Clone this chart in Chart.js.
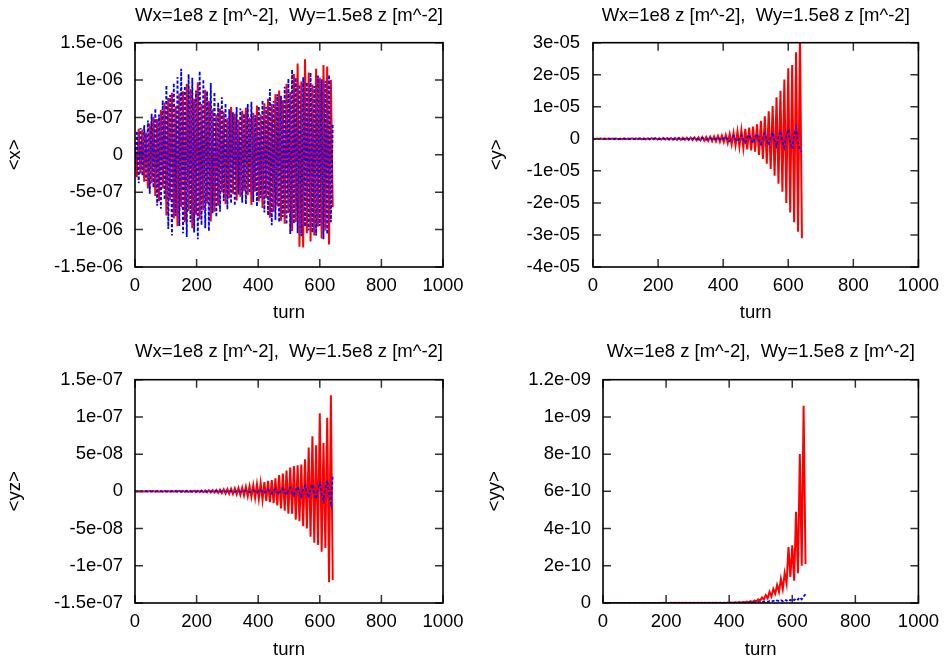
<!DOCTYPE html>
<html><head><meta charset="utf-8">
<script src="https://cdn.jsdelivr.net/npm/chart.js@4.4.1/dist/chart.umd.min.js"></script>
<style>
html,body{margin:0;padding:0;background:#fff;width:947px;height:665px;overflow:hidden;position:relative}
canvas{position:absolute}
</style></head><body>
<canvas id="c1" width="473" height="330" style="left:0;top:0"></canvas>
<canvas id="c2" width="474" height="330" style="left:473px;top:0"></canvas>
<canvas id="c3" width="473" height="335" style="left:0;top:330px"></canvas>
<canvas id="c4" width="474" height="335" style="left:473px;top:330px"></canvas>
<script>
// ---------- DATA ----------
const turns = [0,6,12,18,24,30,36,42,48,54,
60,66,72,78,84,90,96,102,108,114,
120,126,132,138,144,150,156,162,168,174,
180,186,192,198,204,210,216,222,228,234,
240,246,252,258,264,270,276,282,288,294,
300,306,312,318,324,330,336,342,348,354,
360,366,372,378,384,390,396,402,408,414,
420,426,432,438,444,450,456,462,468,474,
480,486,492,498,504,510,516,522,528,534,
540,546,552,558,564,570,576,582,588,594,
600,606,612,618,624,630,636,642];

// <x>, values in units of 1e-7
const X_UNIT = 1e-7;
const xRed = [1,-3,3.5,-2.5,3.4,-3.6,3,-4.5,4.2,-3.8,
5.1,-5.5,4.8,-6.2,6,-4.5,7,-8.1,7.6,-6,
8.3,-8.5,6.5,-9.5,8.2,-7,8.5,-9,9.5,-7.5,
8.8,-9.8,7.5,-8,9.7,-8.6,6.8,-7.4,8.7,-6.5,
7.2,-8.9,6.1,-7.6,5.4,-6.8,6.2,-5,5.8,-6.6,
4.9,-5.8,6.4,-5.2,5.5,-6.1,4.7,-5.6,5.9,-4.8,
6.3,-5.4,5,-6.7,5.6,-4.9,6.6,-6.2,5.4,-7.1,
6.9,-5.8,7.5,-8.4,6.8,-7.6,8.1,-6.9,8.6,-8.8,
7.3,-9.2,9.5,-7.8,8.4,-10.2,10.8,-9,12.2,-12.3,
9.8,-12.4,12.8,-10.5,11,-11.6,9.4,-10.8,11.5,-9.6,
10.3,-11.2,12,-10.1,11.8,-12,10,-7];
const xBlue = [-2,3.2,-3.8,3.6,-2.8,4,-3.5,4.6,-5.2,5.5,
-4.4,6.2,-6.8,5.4,-7.2,7.3,-6,9.3,-9.9,8,
-10.8,9.6,-8.2,10.4,-9.5,11.5,-10.5,9.2,-11,10.8,
-9,10.3,-10.4,8.6,-11.3,11.2,-9.4,10.1,-9.8,8.5,
-10.2,9.6,-7.8,8.4,-8.3,7,-7.6,7.7,-6.2,6.9,
-7.3,6.1,-6.5,5.7,-6.8,6.4,-5.3,6.2,-6.4,5.5,
-6.6,6.8,-5.1,7.1,-6.3,5.3,-6.9,6.5,-5.8,7.3,
-7.7,6.4,-8.1,8.8,-9.4,7.2,-8.7,8.1,-9,7.9,
-8.3,9.1,-9.3,10.2,-10.6,11.4,-9.2,10.3,-10.5,9.4,
-10.9,10.4,-9.6,9.7,-10.1,11,-10.4,9.2,-10.8,10.6,
-9.5,10.1,-11.3,9.9,-10.6,10.7,-9,4];

// <y>, values in units of 1e-5
const Y_UNIT = 1e-5;
const yRed = [.005,-.005,.006,-.006,.006,-.007,.007,-.007,.008,-.008,
.008,-.009,.009,-.009,.01,-.01,.01,-.011,.011,-.012,
.012,-.013,.013,-.014,.014,-.015,.016,-.016,.017,-.018,
.018,-.019,.019,-.02,.021,-.022,.023,-.024,.025,-.026,
.027,-.028,.029,-.03,.03,-.031,.032,-.033,.034,-.035,
.036,-.039,.041,-.044,.047,-.05,.053,-.056,.059,-.063,
.067,-.072,.077,-.082,.087,-.092,.097,-.104,.12,-.13,
.15,-.17,.19,-.21,.23,-.25,.27,-.29,.31,-.33,
.35,-.36,.38,-.4,.45,-.5,.56,-.63,.7,-.78,
.86,-.94,1.02,-1.15,1.3,-1.4,1.5,-1.65,1.85,-2.0,
2.2,-2.3,2.3,-2.6,2.7,-2.9,3.3,-3.1];
const yBlue = [.003,-.001,-.003,.001,.004,-.001,-.004,.001,.004,-.001,
-.005,.002,.005,-.002,-.005,.002,.006,-.002,-.006,.002,
.007,-.002,-.007,.002,.008,-.002,-.008,.003,.009,-.003,
-.009,.003,.01,-.003,-.01,.003,.011,-.003,-.011,.004,
.012,-.004,-.012,.004,.013,-.004,-.014,.004,.015,-.005,
-.02,.006,.022,-.007,-.024,.008,.027,-.009,-.03,.01,
.034,-.011,-.038,.012,.042,-.014,-.05,.018,.065,-.02,
-.075,.024,.085,-.027,-.092,.03,.11,-.034,-.12,.037,
.13,-.041,-.14,.045,.16,-.05,-.17,.053,.18,-.056,
-.19,.06,.21,-.066,-.23,.072,.25,-.078,-.27,.084,
.3,-.095,-.32,.1,.34,-.11,-.36,-.4];

// <yz>, values in units of 1e-8
const YZ_UNIT = 1e-8;
const yzRed = [.02,-.02,.02,-.025,.025,-.025,.03,-.03,.03,-.03,
.035,-.035,.035,-.04,.04,-.04,.045,-.045,.045,-.05,
.05,-.05,.055,-.055,.06,-.06,.065,-.065,.07,-.07,
.075,-.075,.08,-.08,.09,-.1,.1,-.11,.12,-.13,
.14,-.15,.16,-.17,.19,-.2,.22,-.24,.26,-.28,
.3,-.32,.34,-.36,.38,-.4,.43,-.46,.5,-.55,
.6,-.65,.7,-.75,.8,-.88,.95,-1.0,1.1,-1.15,
1.25,-1.3,1.4,-1.45,1.5,-1.6,1.75,-1.9,2.2,-2.3,
2.4,-2.6,2.8,-3.0,3.2,-3.0,3.4,-3.8,3.5,-4.0,
3.6,-4.7,4.3,-5.0,5.9,-6.1,7.4,-6.9,6.2,-7.2,
10.5,-8.1,6.5,-7.6,9.9,-12.2,12.9,-11.9];
const yzBlue = [.01,-.003,-.01,.003,.012,-.004,-.012,.004,.014,-.004,
-.014,.004,.016,-.005,-.016,.005,.018,-.005,-.018,.006,
.02,-.006,-.021,.006,.022,-.007,-.023,.007,.024,-.007,
-.026,.008,.028,-.008,-.03,.009,.032,-.01,-.034,.01,
.036,-.011,-.038,.012,.041,-.013,-.044,.014,.047,-.015,
-.05,.016,.06,-.02,-.07,.022,.08,-.026,-.09,.03,
.11,-.035,-.13,.04,.15,-.05,-.18,.06,.21,-.07,
-.24,.08,.27,-.09,-.3,.1,.34,-.11,-.38,.12,
.42,-.14,-.46,.15,.5,-.17,-.56,.19,.62,-.21,
-.7,.23,.78,-.26,-.86,.29,.95,-.31,-1.02,.34,
1.1,-.38,-1.2,.42,1.5,-.5,-1.6,2.0];

// <yy>, values in units of 1e-10
const YY_UNIT = 1e-10;
const yyRed = [.004,.001,.004,.001,.004,.001,.005,.001,.004,.001,
.005,.001,.004,.002,.005,.001,.005,.002,.005,.001,
.005,.002,.006,.002,.005,.002,.006,.002,.006,.002,
.006,.002,.007,.002,.006,.002,.007,.003,.007,.002,
.007,.003,.008,.003,.008,.003,.008,.003,.009,.003,
.009,.003,.01,.004,.011,.004,.012,.004,.013,.005,
.014,.005,.016,.006,.018,.007,.02,.008,.025,.01,
.035,.012,.045,.018,.055,.025,.07,.03,.1,.05,
.14,.08,.2,.12,.3,.18,.42,.25,.6,.35,
.75,.5,.97,.6,1.3,.75,1.6,1.05,3.0,1.4,
3.1,1.2,4.9,1.6,8.0,2.0,10.6,2.1];
const yyBlue = [.002,.001,.002,.001,.002,.001,.002,.001,.002,.001,
.002,.001,.002,.001,.002,.001,.002,.001,.002,.001,
.002,.001,.002,.001,.002,.001,.002,.001,.002,.001,
.002,.001,.002,.001,.002,.001,.002,.001,.002,.001,
.002,.001,.002,.001,.002,.001,.002,.001,.002,.001,
.003,.001,.003,.001,.003,.001,.003,.001,.004,.002,
.004,.002,.005,.002,.005,.002,.006,.003,.01,.005,
.012,.006,.014,.008,.02,.01,.03,.015,.04,.02,
.05,.025,.06,.035,.08,.05,.09,.06,.1,.07,
.12,.08,.14,.1,.15,.1,.18,.12,.2,.14,
.22,.15,.25,.18,.3,.2,.35,.47];

const titleText = "Wx=1e8 z [m^-2],  Wy=1.5e8 z [m^-2]";
const xAxisTitle = "turn";
const xTickValues = [0,200,400,600,800,1000];
const xTickLabels = ["0","200","400","600","800","1000"];

const xPanelTicks = [-1.5e-6,-1e-6,-5e-7,0,5e-7,1e-6,1.5e-6];
const xPanelLabels = ["-1.5e-06","-1e-06","-5e-07","0","5e-07","1e-06","1.5e-06"];
const yPanelTicks = [-4e-5,-3e-5,-2e-5,-1e-5,0,1e-5,2e-5,3e-5];
const yPanelLabels = ["-4e-05","-3e-05","-2e-05","-1e-05","0","1e-05","2e-05","3e-05"];
const yzPanelTicks = [-1.5e-7,-1e-7,-5e-8,0,5e-8,1e-7,1.5e-7];
const yzPanelLabels = ["-1.5e-07","-1e-07","-5e-08","0","5e-08","1e-07","1.5e-07"];
const yyPanelTicks = [0,2e-10,4e-10,6e-10,8e-10,1e-9,1.2e-9];
const yyPanelLabels = ["0","2e-10","4e-10","6e-10","8e-10","1e-09","1.2e-09"];

// ---------- DRAWING ----------
const FONT = {family:"'Liberation Sans', Arial, Helvetica, sans-serif", size:18.5, weight:'normal'};

const frameTicks = {
  id:'frameTicks',
  afterDatasetsDraw(chart){
    const {ctx, chartArea:a, scales} = chart;
    const L = 8;
    ctx.save();
    ctx.strokeStyle = '#333';
    ctx.lineWidth = 1.5;
    ctx.beginPath();
    scales.x.ticks.forEach(t => {
      const px = scales.x.getPixelForValue(t.value);
      ctx.moveTo(px, a.bottom); ctx.lineTo(px, a.bottom - L);
      ctx.moveTo(px, a.top); ctx.lineTo(px, a.top + L);
    });
    scales.y.ticks.forEach(t => {
      const py = scales.y.getPixelForValue(t.value);
      ctx.moveTo(a.left, py); ctx.lineTo(a.left + L, py);
      ctx.moveTo(a.right, py); ctx.lineTo(a.right - L, py);
    });
    ctx.stroke();
    ctx.strokeStyle = '#000';
    ctx.lineWidth = 1.6;
    ctx.strokeRect(a.left, a.top, a.right - a.left, a.bottom - a.top);
    ctx.restore();
  }
};

function pts(vals, unit){ return vals.map((v,i) => ({x: turns[i], y: v*unit})); }

function makeChart(id, o){
  return new Chart(document.getElementById(id), {
    type:'line',
    data:{datasets:[
      {data:pts(o.blue,o.unit), borderColor:'#0000ff', borderWidth:1.8, borderDash:[3,2], pointRadius:0, tension:0, order:0},
      {data:pts(o.red,o.unit), borderColor:'#ff0000', borderWidth:2, pointRadius:0, tension:0, order:1}
    ]},
    options:{
      responsive:false, animation:false, events:[],
      layout:{padding:{left:0, right:o.padRight, top:0, bottom:0}},
      plugins:{
        legend:{display:false}, tooltip:{enabled:false},
        title:{display:true, text:titleText, fullSize:false, color:'#000', font:FONT,
               padding:{top:o.tTop, bottom:o.tBottom}}
      },
      scales:{
        x:{type:'linear', min:0, max:1000,
           grid:{display:false, drawTicks:false}, border:{display:false},
           afterBuildTicks: s => { s.ticks = xTickValues.map(v => ({value:v})); },
           afterFit: s => { s.height = o.xH; },
           ticks:{callback:(v,i) => xTickLabels[i], padding:8, color:'#000', font:FONT, maxRotation:0, autoSkip:false},
           title:{display:true, text:xAxisTitle, color:'#000', font:FONT, padding:{top:0, bottom:o.xtPad}}},
        y:{type:'linear', min:o.ticks[0], max:o.ticks[o.ticks.length-1],
           grid:{display:false, drawTicks:false}, border:{display:false},
           afterBuildTicks: s => { s.ticks = o.ticks.map(v => ({value:v})); },
           afterFit: s => { s.width = o.yW; },
           ticks:{callback:(v,i) => o.labels[i], padding:o.yPad, color:'#000', font:FONT, autoSkip:false},
           title:{display:true, text:o.yTitle, color:'#000', font:FONT, padding:{top:o.ytPad, bottom:0}}}
      }
    },
    plugins:[frameTicks]
  });
}

makeChart('c1', {red:xRed, blue:xBlue, unit:X_UNIT, ticks:xPanelTicks, labels:xPanelLabels, yTitle:'<x>',
  padRight:30, tTop:4.5, tBottom:16, xH:63, xtPad:6, yW:135, yPad:12, ytPad:4});
makeChart('c2', {red:yRed, blue:yBlue, unit:Y_UNIT, ticks:yPanelTicks, labels:yPanelLabels, yTitle:'<y>',
  padRight:24, tTop:4.5, tBottom:16, xH:63, xtPad:6, yW:120, yPad:13, ytPad:13});
makeChart('c3', {red:yzRed, blue:yzBlue, unit:YZ_UNIT, ticks:yzPanelTicks, labels:yzPanelLabels, yTitle:'<yz>',
  padRight:30, tTop:10.5, tBottom:17, xH:62, xtPad:4, yW:135, yPad:12, ytPad:4});
makeChart('c4', {red:yyRed, blue:yyBlue, unit:YY_UNIT, ticks:yyPanelTicks, labels:yyPanelLabels, yTitle:'<yy>',
  padRight:24, tTop:10.5, tBottom:17, xH:62, xtPad:4, yW:130, yPad:12, ytPad:11});
</script>
</body></html>
